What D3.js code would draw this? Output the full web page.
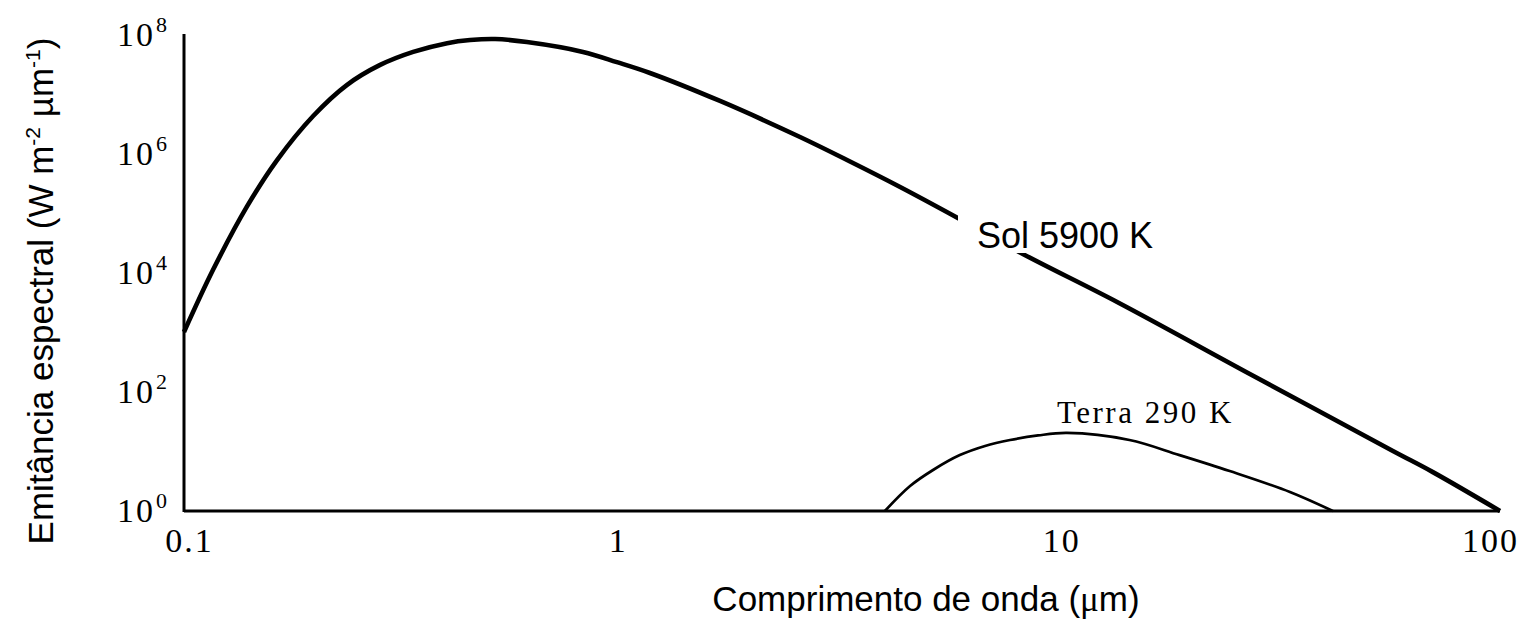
<!DOCTYPE html>
<html>
<head>
<meta charset="utf-8">
<script src="https://cdn.jsdelivr.net/npm/d3@7"></script>
<style>
  html, body { margin: 0; padding: 0; background: #fff; }
  svg { display: block; }
</style>
</head>
<body>
<svg id="chart" width="1527" height="629"></svg>
<script>
// ---- data ----
const xTicks = [0.1, 1, 10, 100];
const xTickLabels = ["0.1", "1", "10", "100"];
const yTicks = [1, 1e2, 1e4, 1e6, 1e8];
const yTickExponents = ["0", "2", "4", "6", "8"];

const solWavelength = [0.1, 0.1164, 0.139, 0.163, 0.197, 0.235, 0.280, 0.333, 0.398, 0.449, 0.512, 0.605, 0.812, 0.97, 1.154, 1.667, 2.537, 3.298, 4.29, 5.78, 8.17, 13.4, 26.9, 57, 70.3, 100];
const solEmittance  = [1020, 1.12e4, 1.29e5, 7.9e5, 4.35e6, 1.44e7, 3.14e7, 5.2e7, 7.3e7, 8.24e7, 8.57e7, 7.62e7, 5.2e7, 3.5e7, 2.3e7, 7.78e6, 1.93e6, 7.48e5, 2.79e5, 8.57e4, 2.09e4, 3.26e3, 201, 10.2, 4.5, 1];

const terraWavelength = [3.96, 4.52, 5.10, 5.87, 6.70, 7.64, 8.85, 10.3, 14.3, 18.6, 24.2, 33.2, 41.6];
const terraEmittance  = [1, 2.63, 4.89, 8.7, 12.4, 15.6, 18.6, 20.5, 15.6, 8.7, 4.7, 2.09, 1];

const solLabel = "Sol 5900 K";
const terraLabel = "Terra 290 K";
const xTitle = "Comprimento de onda (";
const yTitle = "Emitância espectral (W m";

// ---- layout ----
const svg = d3.select("#chart");
const x = d3.scaleLog().domain([0.1, 100]).range([184, 1500]);
const y = d3.scaleLog().domain([1, 1e8]).range([511, 35]);

const serif = "'Liberation Serif', 'Times New Roman', serif";
const sans = "'Liberation Sans', Arial, sans-serif";
const xLabelShift = [5, -5, 0, -10];

// x axis
const gx = svg.append("g").attr("transform", "translate(0,511)")
  .call(d3.axisBottom(x).tickValues(xTicks).tickSize(0).tickFormat(() => ""));
gx.select(".domain").attr("stroke", "#000").attr("stroke-width", 3).attr("d", "M184,0H1500");
gx.selectAll(".tick").each(function(d, i) {
  d3.select(this).append("text")
    .attr("x", xLabelShift[i]).attr("y", 41)
    .attr("text-anchor", "middle")
    .attr("fill", "#000")
    .style("font-family", serif).style("font-size", "34px").style("letter-spacing", "2px")
    .text(xTickLabels[i]);
});

// y axis
const gy = svg.append("g").attr("transform", "translate(184,0)")
  .call(d3.axisLeft(y).tickValues(yTicks).tickSize(0).tickFormat(() => ""));
gy.select(".domain").attr("stroke", "#000").attr("stroke-width", 3).attr("d", "M0,34V512");
gy.selectAll(".tick").each(function(d, i) {
  d3.select(this).append("text")
    .attr("x", -29).attr("y", 10)
    .attr("text-anchor", "end")
    .attr("fill", "#000")
    .style("font-family", serif).style("font-size", "34px").style("letter-spacing", "2px")
    .text("10");
  d3.select(this).append("text")
    .attr("x", -28).attr("y", -4)
    .attr("text-anchor", "start")
    .attr("fill", "#000")
    .style("font-family", serif).style("font-size", "22px")
    .text(yTickExponents[i]);
});

// curves
const line = d3.line().x(d => x(d[0])).y(d => y(d[1])).curve(d3.curveCatmullRom.alpha(0.5));
const solData = solWavelength.map((w, i) => [w, solEmittance[i]]);
const terraData = terraWavelength.map((w, i) => [w, terraEmittance[i]]);

svg.append("path").datum(solData).attr("d", line)
  .attr("fill", "none").attr("stroke", "#000").attr("stroke-width", 4.6)
  .attr("stroke-linejoin", "round");
svg.append("path").datum(terraData).attr("d", line)
  .attr("fill", "none").attr("stroke", "#000").attr("stroke-width", 2.7)
  .attr("stroke-linejoin", "round");

// Sol label with white background
svg.append("rect").attr("x", 958).attr("y", 210).attr("width", 205).attr("height", 43).attr("fill", "#fff");
svg.append("text").attr("x", 977).attr("y", 248)
  .attr("fill", "#000").style("font-family", sans).style("font-size", "36px")
  .text(solLabel);

// Terra label
svg.append("text").attr("x", 1057).attr("y", 423)
  .attr("fill", "#000").style("font-family", serif).style("font-size", "31px").style("letter-spacing", "2.5px")
  .text(terraLabel);

// x axis title
const xt = svg.append("text").attr("x", 926).attr("y", 611)
  .attr("text-anchor", "middle").attr("fill", "#000")
  .style("font-family", sans).style("font-size", "35px");
xt.append("tspan").text(xTitle);
xt.append("tspan").style("font-family", serif).text("μ");
xt.append("tspan").text("m)");

// y axis title
const yt = svg.append("text").attr("transform", "translate(53,291) rotate(-90)")
  .attr("text-anchor", "middle").attr("fill", "#000")
  .style("font-family", sans).style("font-size", "35px");
yt.append("tspan").text(yTitle);
yt.append("tspan").attr("dy", -13).style("font-size", "21px").text("-2");
yt.append("tspan").attr("dy", 13).text(" µm");
yt.append("tspan").attr("dy", -13).style("font-size", "21px").text("-1");
yt.append("tspan").attr("dy", 13).text(")");
</script>
</body>
</html>
